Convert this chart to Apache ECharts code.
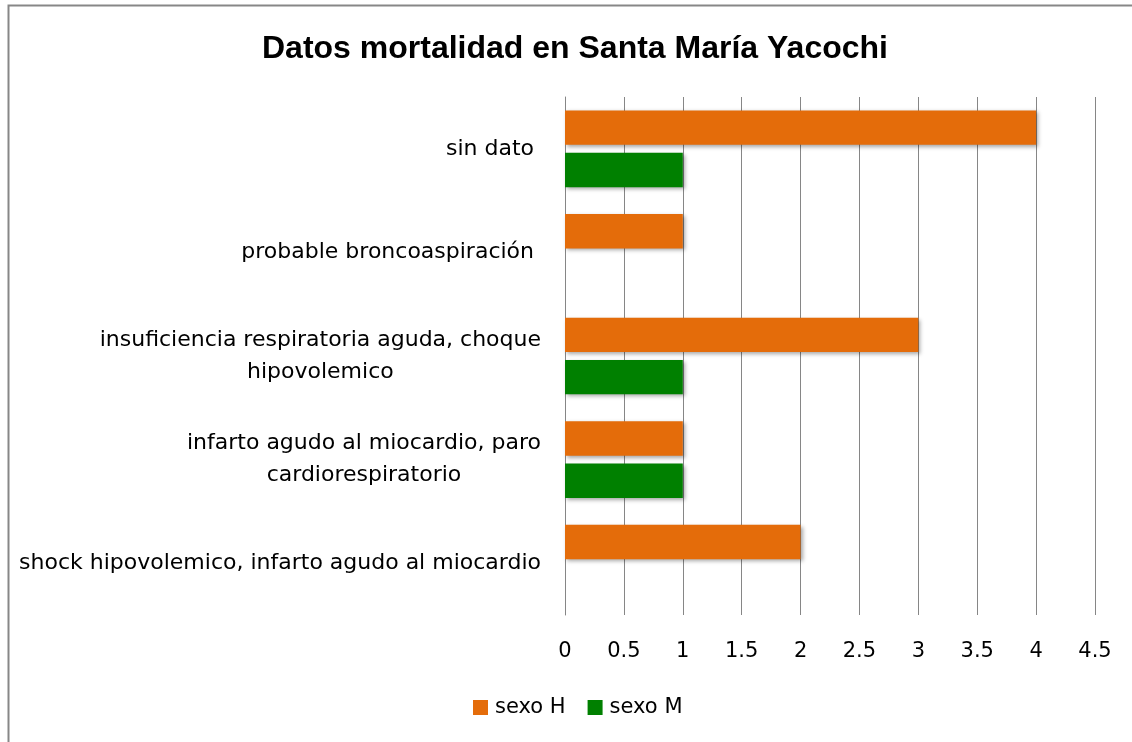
<!DOCTYPE html>
<html>
<head>
<meta charset="utf-8">
<script src="https://cdn.jsdelivr.net/npm/echarts@6/dist/echarts.min.js"></script>
<style>
html,body{margin:0;padding:0;background:#fff;}
#chart{width:1132px;height:742px;}
</style>
</head>
<body>
<div id="chart"></div>
<script>
const title = 'Datos mortalidad en Santa María Yacochi';
const categories = [
  'sin dato ',
  'probable broncoaspiración ',
  'insuficiencia respiratoria aguda, choque\nhipovolemico',
  'infarto agudo al miocardio, paro\ncardiorespiratorio',
  'shock hipovolemico, infarto agudo al miocardio'
];
const seriesNames = ['sexo H', 'sexo M'];
const sexoH = [4, 1, 3, 1, 2];
const sexoM = [1, null, 1, 1, null];
const xTicks = { min: 0, max: 4.5, interval: 0.5 };

const chart = echarts.init(document.getElementById('chart'), null, { renderer: 'canvas' });
const labelFont = 'DejaVu Sans';
const barShadow = { shadowBlur: 4, shadowOffsetX: 2, shadowOffsetY: 2, shadowColor: 'rgba(0,0,0,0.35)' };
chart.setOption({
  backgroundColor: '#ffffff',
  animation: false,
  title: {
    text: title,
    left: 257,
    top: 28,
    textStyle: { fontFamily: 'Liberation Sans', fontWeight: 'bold', fontSize: 32, color: '#000' }
  },
  graphic: [{
    type: 'rect',
    shape: { x: 8.5, y: 5.5, width: 1140, height: 760 },
    style: { fill: 'none', stroke: '#878787', lineWidth: 2 },
    silent: true
  }],
  legend: {
    data: seriesNames,
    left: 468,
    top: 692,
    itemWidth: 15,
    itemHeight: 15,
    itemGap: 22,
    icon: 'rect',
    textStyle: { fontFamily: labelFont, fontSize: 21, color: '#000', padding: [0, 0, 0, 2] }
  },
  grid: { left: 565, right: 37, top: 97, bottom: 127, containLabel: false },
  xAxis: {
    type: 'value',
    min: xTicks.min,
    max: xTicks.max,
    interval: xTicks.interval,
    axisLine: { show: false },
    axisTick: { show: false },
    splitLine: { show: true, lineStyle: { color: '#868686', width: 1 } },
    axisLabel: { fontFamily: labelFont, fontSize: 21, color: '#000', margin: 26 }
  },
  yAxis: {
    type: 'category',
    data: categories,
    inverse: true,
    axisLine: { show: true, lineStyle: { color: '#868686', width: 1 } },
    axisTick: { show: false },
    splitLine: { show: false },
    axisLabel: {
      margin: 24,
      align: 'right',
      formatter: function (v) {
        return v.split('\n').map(function (s) { return '{c|' + s + '}'; }).join('\n');
      },
      rich: {
        c: { align: 'center', fontFamily: labelFont, fontSize: 22, color: '#000', lineHeight: 32 }
      }
    }
  },
  series: [
    {
      name: seriesNames[0], type: 'bar', data: sexoH,
      barGap: '23%', barCategoryGap: '26%',
      itemStyle: Object.assign({ color: '#E46C0A' }, barShadow)
    },
    {
      name: seriesNames[1], type: 'bar', data: sexoM,
      barGap: '23%', barCategoryGap: '26%',
      itemStyle: Object.assign({ color: '#008000' }, barShadow)
    }
  ]
});
</script>
</body>
</html>
